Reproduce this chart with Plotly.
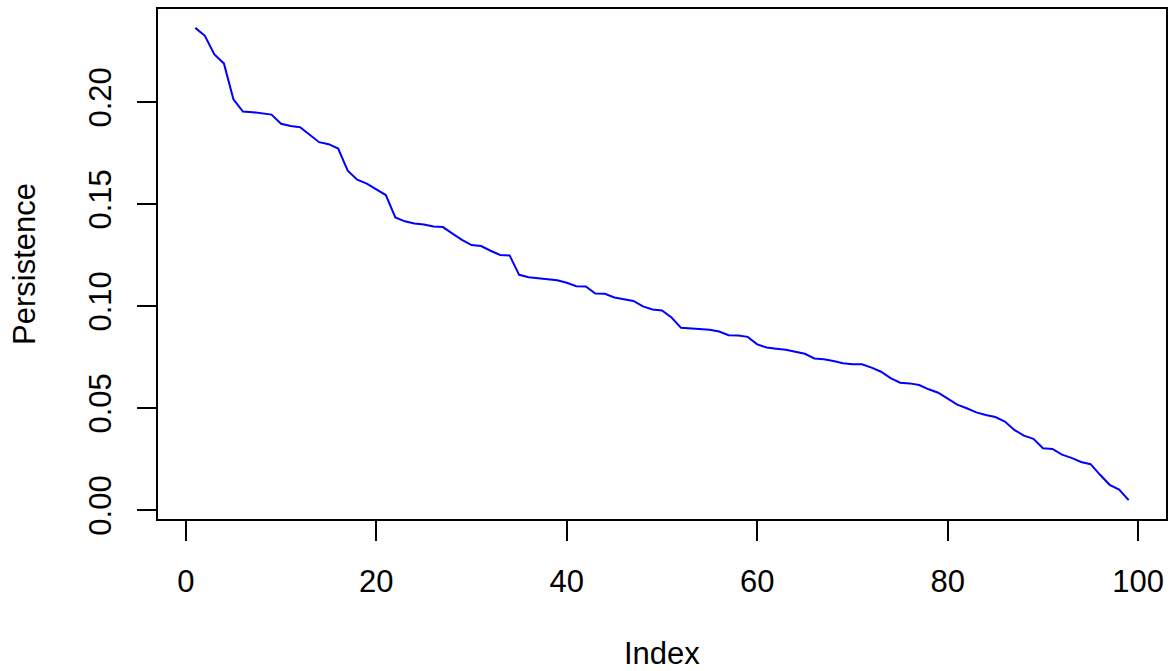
import plotly.graph_objects as go

index = list(range(1, 100))
persistence = [
    0.2363, 0.2324, 0.2233, 0.2189, 0.2013, 0.1953, 0.1950, 0.1945, 0.1938, 0.1893,
    0.1882, 0.1876, 0.1840, 0.1803, 0.1793, 0.1772, 0.1663, 0.1619, 0.1600, 0.1574,
    0.1544, 0.1434, 0.1415, 0.1405, 0.1400, 0.1390, 0.1387, 0.1355, 0.1324, 0.1299,
    0.1294, 0.1271, 0.1250, 0.1248, 0.1153, 0.1141, 0.1136, 0.1134, 0.1126, 0.1114,
    0.1097, 0.1096, 0.1061, 0.1060, 0.1042, 0.1033, 0.1025, 0.0998, 0.0983, 0.0978,
    0.0944, 0.0893, 0.0890, 0.0887, 0.0884, 0.0875, 0.0857, 0.0856, 0.0849, 0.0812,
    0.0797, 0.0791, 0.0786, 0.0776, 0.0766, 0.0743, 0.0739, 0.0731, 0.0720, 0.0715,
    0.0715, 0.0698, 0.0678, 0.0647, 0.0624, 0.0621, 0.0613, 0.0592, 0.0575, 0.0546,
    0.0517, 0.0499, 0.0479, 0.0466, 0.0456, 0.0434, 0.0393, 0.0365, 0.0349, 0.0303,
    0.0300, 0.0272, 0.0256, 0.0236, 0.0225, 0.0173, 0.0124, 0.0101, 0.0049,
]
x_ticks = [0, 20, 40, 60, 80, 100]
y_ticks = [0.00, 0.05, 0.10, 0.15, 0.20]
y_tick_labels = ["0.00", "0.05", "0.10", "0.15", "0.20"]

FONT = "Liberation Sans, Arial, Helvetica, sans-serif"
FS = 31

# R-style 4% range extension
xmin, xmax = min(index), max(index)
xr = [xmin - 0.04 * (xmax - xmin), xmax + 0.04 * (xmax - xmin)]
ymin, ymax = min(persistence), max(persistence)
yr = [ymin - 0.04 * (ymax - ymin), ymax + 0.04 * (ymax - ymin)]

fig = go.Figure()
fig.add_trace(go.Scatter(x=index, y=persistence, mode="lines",
                         line=dict(color="#0000FF", width=2), showlegend=False,
                         hoverinfo="skip"))

fig.update_layout(
    width=1173, height=671,
    margin=dict(l=158, r=5, t=9, b=152),
    paper_bgcolor="white", plot_bgcolor="white",
    font=dict(family=FONT, size=FS, color="black"),
    xaxis=dict(range=xr, tickmode="array", tickvals=x_ticks,
               ticktext=[str(v) for v in x_ticks],
               ticks="outside", ticklen=20, tickwidth=1.5, tickcolor="black",
               showline=True, linecolor="black", linewidth=2, mirror=True,
               showgrid=False, zeroline=False, ticklabelstandoff=14,
               tickfont=dict(family=FONT, size=FS)),
    yaxis=dict(range=yr, tickmode="array", tickvals=y_ticks,
               ticktext=y_tick_labels, tickangle=-90,
               ticks="outside", ticklen=19, tickwidth=1.5, tickcolor="black",
               showline=True, linecolor="black", linewidth=2, mirror=True,
               showgrid=False, zeroline=False, ticklabelstandoff=14,
               tickfont=dict(family=FONT, size=FS)),
    annotations=[
        dict(text="Index", xref="paper", yref="paper", x=0.5, y=0,
             xanchor="center", yanchor="middle", yshift=-134, showarrow=False,
             font=dict(family=FONT, size=FS)),
        dict(text="Persistence", xref="paper", yref="paper", x=0, y=0.5,
             xanchor="center", yanchor="middle", xshift=-134, textangle=-90,
             showarrow=False, font=dict(family=FONT, size=FS)),
    ],
)

fig.write_html("out.html")
